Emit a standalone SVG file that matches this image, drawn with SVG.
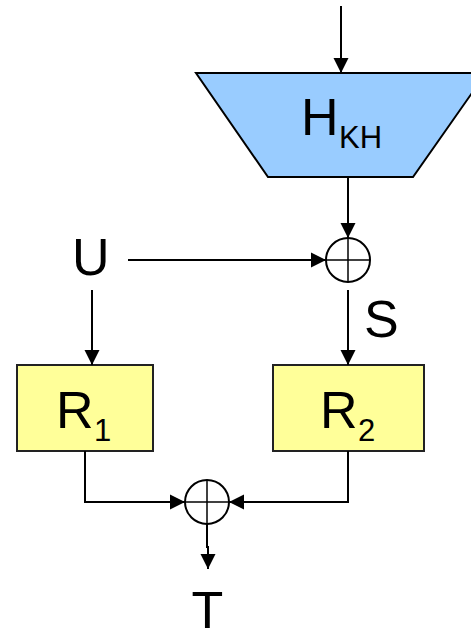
<svg xmlns="http://www.w3.org/2000/svg" width="471" height="630" viewBox="0 0 471 630">
<defs>
<marker id="ah" markerUnits="userSpaceOnUse" markerWidth="16" markerHeight="16" viewBox="0 0 16 16" refX="15" refY="8" orient="auto">
<path d="M0,0.5 L15,8 L0,15.5 Z" fill="#000"/>
</marker>
<style>
.t{font-family:"Liberation Sans",Arial,sans-serif;fill:#000}
.big{font-size:52px}
.sub{font-size:31px}
.ln{fill:none;stroke:#000;stroke-width:2}
.box{fill:#FFFF99;stroke:#222;stroke-width:2}
.xor{fill:#fff;stroke:#000;stroke-width:2}
.cr{stroke:#000;stroke-width:1.5}
</style>
</defs>
<rect width="471" height="630" fill="#fff"/>
<g id="H">
<polygon points="196,73 486,73 413,177 268,177" fill="#99CCFF" stroke="#000" stroke-width="2"/>
<text class="t big" x="301" y="135">H</text>
<text class="t sub" x="339" y="148">KH</text>
</g>
<g id="xor1">
<circle class="xor" cx="348" cy="260" r="22"/>
<line class="cr" x1="326" y1="260" x2="370" y2="260"/>
<line class="cr" x1="348" y1="238" x2="348" y2="282"/>
</g>
<g id="U"><text class="t big" x="72" y="275">U</text></g>
<g id="S"><text class="t big" x="364" y="337">S</text></g>
<g id="R1">
<rect class="box" x="17" y="365" width="136" height="86"/>
<text class="t big" x="56" y="428">R</text>
<text class="t sub" x="94" y="441">1</text>
</g>
<g id="R2">
<rect class="box" x="273" y="365" width="151" height="86"/>
<text class="t big" x="320" y="428">R</text>
<text class="t sub" x="358" y="441">2</text>
</g>
<g id="xor2">
<circle class="xor" cx="207" cy="502" r="22"/>
<line class="cr" x1="185" y1="502" x2="229" y2="502"/>
<line class="cr" x1="207" y1="480" x2="207" y2="524"/>
</g>
<g id="T"><text class="t big" x="207.5" y="628" text-anchor="middle">T</text></g>
<g id="connectors">
<line class="ln" x1="341" y1="6" x2="341" y2="73" marker-end="url(#ah)"/>
<line class="ln" x1="348" y1="177" x2="348" y2="238" marker-end="url(#ah)"/>
<line class="ln" x1="128" y1="260" x2="326" y2="260" marker-end="url(#ah)"/>
<line class="ln" x1="92" y1="290" x2="92" y2="365" marker-end="url(#ah)"/>
<line class="ln" x1="348" y1="290" x2="348" y2="365" marker-end="url(#ah)"/>
<path class="ln" d="M85,451 V502 H185" marker-end="url(#ah)"/>
<path class="ln" d="M348,451 V502 H229" marker-end="url(#ah)"/>
<path class="ln" d="M207,524 V547 H208 V569" marker-end="url(#ah)"/>
</g>
</svg>
